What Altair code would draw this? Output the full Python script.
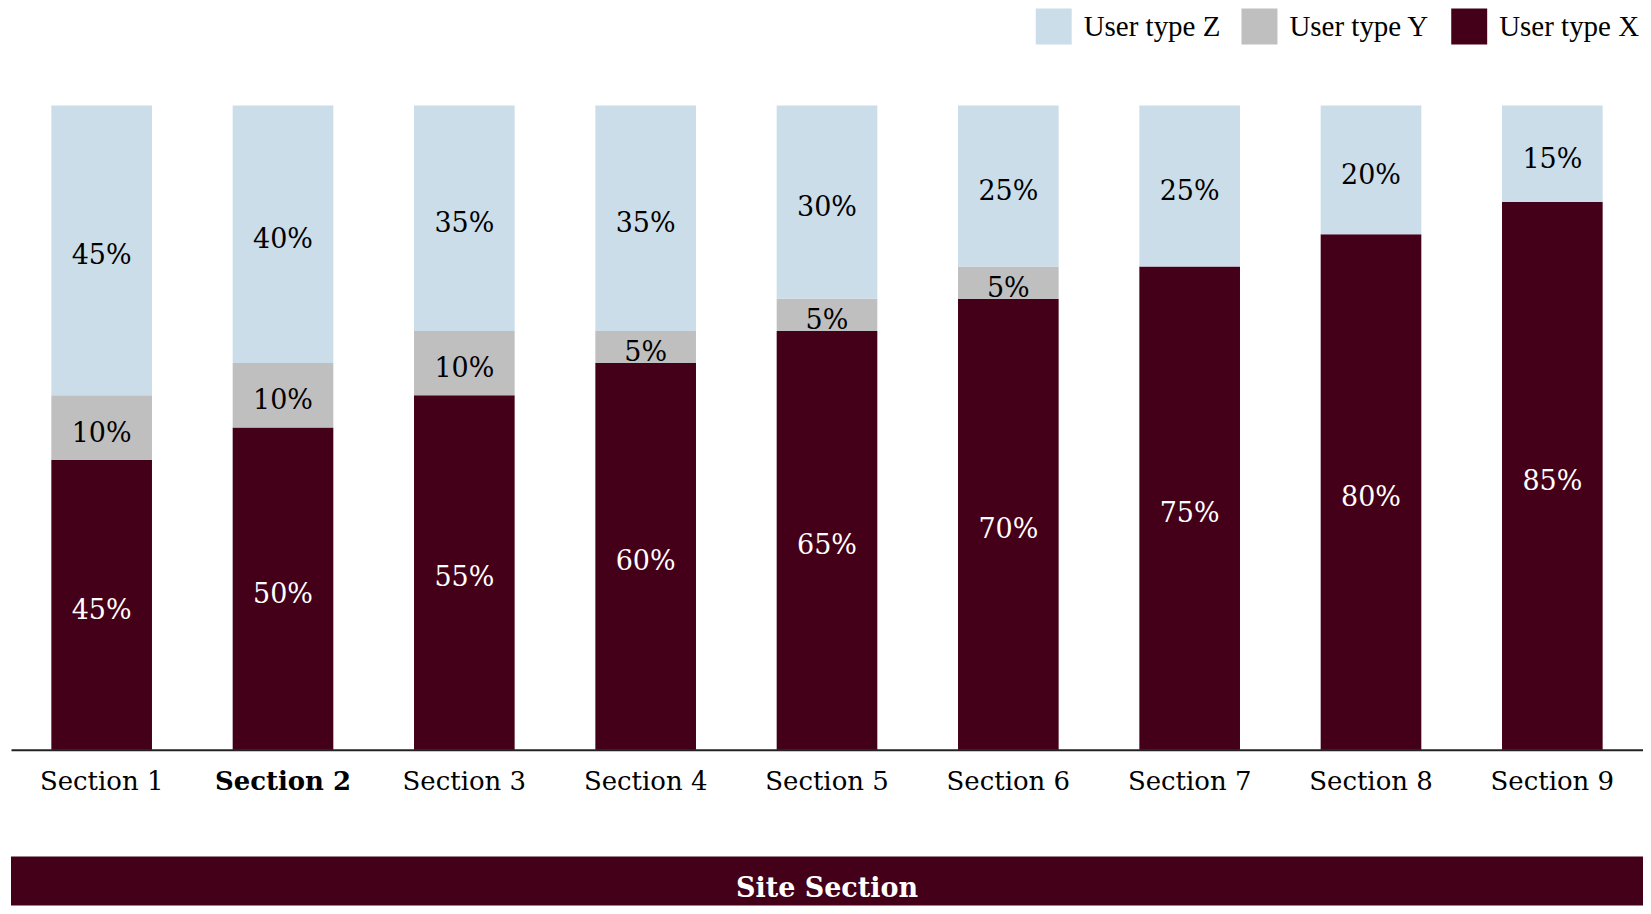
import altair as alt
import pandas as pd

sections = ["Section 1", "Section 2", "Section 3", "Section 4", "Section 5",
            "Section 6", "Section 7", "Section 8", "Section 9"]
user_x = [45, 50, 55, 60, 65, 70, 75, 80, 85]
user_y = [10, 10, 10, 5, 5, 5, 0, 0, 0]
user_z = [45, 40, 35, 35, 30, 25, 25, 20, 15]
series_names = ["User type X", "User type Y", "User type Z"]
legend_order = ["User type Z", "User type Y", "User type X"]
colors = ["#CBDDE9", "#BFBFBF", "#440018"]
axis_title = "Site Section"

rows = []
for i, s in enumerate(sections):
    for rank, (name, vals) in enumerate(zip(series_names, [user_x, user_y, user_z])):
        rows.append({"section": s, "type": name, "value": vals[i], "rank": rank})
df = pd.DataFrame(rows)

W = 1634
H = 645
SERIF = "DejaVu Serif"

xenc = alt.X("section:N", sort=sections, title=None,
             scale=alt.Scale(paddingInner=0.445, paddingOuter=0.2225),
             axis=alt.Axis(labelAngle=0, ticks=False, labelFont=SERIF, labelFontSize=26,
                           labelColor="black", labelPadding=19, domainColor="#222222",
                           domainWidth=2,
                           labelFontWeight=alt.ExprRef(expr="datum.value == 'Section 2' ? 'bold' : 'normal'")))

base = alt.Chart(df)

bars = base.mark_bar().encode(
    x=xenc,
    y=alt.Y("value:Q", stack="zero", scale=alt.Scale(domain=[0, 100]), axis=None),
    color=alt.Color("type:N", scale=alt.Scale(domain=legend_order, range=colors),
                    legend=alt.Legend(orient="none", legendX=1026, legendY=-97,
                                      direction="horizontal", title=None,
                                      symbolType="square", symbolSize=1296,
                                      symbolStrokeWidth=0, labelFont="Liberation Serif",
                                      labelFontSize=29, labelColor="black",
                                      labelOffset=12, columnPadding=21)),
    order=alt.Order("rank:Q", sort="ascending"),
)

labels = base.transform_stack(
    stack="value", groupby=["section"], as_=["v0", "v1"],
    sort=[alt.SortField("rank", order="ascending")]
).transform_filter(
    alt.datum.value > 0
).transform_calculate(
    mid="(datum.v0 + datum.v1) / 2",
    label="datum.value + '%'"
).mark_text(font=SERIF, fontSize=27, baseline="middle", dy=6).encode(
    x=alt.X("section:N", sort=sections),
    y=alt.Y("mid:Q", scale=alt.Scale(domain=[0, 100])),
    text="label:N",
    color=alt.condition(alt.datum.type == "User type X", alt.value("white"), alt.value("black")),
)

main = alt.layer(bars, labels).properties(width=W, height=H)

banner_df = pd.DataFrame({"t": [axis_title]})
banner = alt.Chart(banner_df).mark_text(
    font=SERIF, fontSize=27, fontWeight="bold", color="white", baseline="middle"
).encode(
    x=alt.value(W / 2), y=alt.value(33), text="t:N"
).properties(width=W, height=49, view=alt.ViewBackground(fill="#440018", stroke=None))

chart = alt.vconcat(main, banner, spacing=62).properties(
    padding={"left": 3, "top": 0, "right": 0, "bottom": 0}
).configure_view(stroke=None)

chart.save("out.html", embed_options={"renderer": "svg", "actions": False})
